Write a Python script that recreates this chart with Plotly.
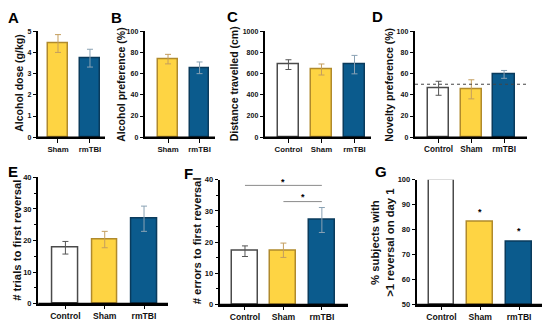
import plotly.graph_objects as go

# ---------------- data ----------------
groups2 = ["Sham", "rmTBI"]
groups3 = ["Control", "Sham", "rmTBI"]

alcohol_dose = [4.42, 3.73]
alcohol_dose_err = [0.42, 0.42]

alcohol_pref = [73.7, 65.5]
alcohol_pref_err = [4.5, 5.5]

distance = [685, 639, 685]
distance_err = [46, 52, 87]

novelty_pref = [46.2, 45.2, 59.3]
novelty_pref_err = [6.6, 9.0, 3.7]
novelty_chance = 50

trials_rev = [17.7, 20.3, 26.9]
trials_rev_err = [2.0, 2.6, 4.0]

errors_rev = [17.1, 17.4, 27.1]
errors_rev_err = [1.7, 2.3, 4.0]
errors_sig = [(0, 2, 38.2, 40.0), (1, 2, 33.0, 35.0)]  # from, to, line level, star level

pct_reversal = [100, 83, 75]
pct_sig = [None, 87.7, 80.4]

# ---------------- styles ----------------
W, H = 550, 329
FILL = {"Control": "#ffffff", "Sham": "#fed443", "rmTBI": "#0b5b8d"}
EDGE = {"Control": "#4a4a4a", "Sham": "#b08a2c", "rmTBI": "#0a3b5c"}
ERRC = {"Control": "#555555", "Sham": "#c49e5e", "rmTBI": "#8aa2b4"}
FONT = "Liberation Sans"
AX = "#000000"

fig = go.Figure()

panels = [
    dict(groups=groups2, vals=alcohol_dose, errs=alcohol_dose_err, xpx=(38, 105), ypx=(28, 137),
         xr=[-0.625, 1.47], bw=0.625, yr=[0, 5], dt=1, minor=None, yts=7, xts=7.8),
    dict(groups=groups2, vals=alcohol_pref, errs=alcohol_pref_err, xpx=(145, 215), ypx=(28, 137),
         xr=[-0.73, 1.49], bw=0.63, yr=[0, 100], dt=20, minor=None, yts=7, xts=7.8),
    dict(groups=groups3, vals=distance, errs=distance_err, xpx=(265, 371), ypx=(28, 137),
         xr=[-0.71, 2.5], bw=0.64, yr=[0, 1000], dt=200, minor=None, yts=7, xts=7.8),
    dict(groups=groups3, vals=novelty_pref, errs=novelty_pref_err, xpx=(415, 527), ypx=(28, 137),
         xr=[-0.72, 2.70], bw=0.66, yr=[0, 100], dt=20, minor=None, yts=7, xts=8.2),
    dict(groups=groups3, vals=trials_rev, errs=trials_rev_err, xpx=(38.3, 168), ypx=(178.3, 308),
         xr=[-0.69, 2.61], bw=0.65, yr=[0, 40], dt=10, minor=5, yts=7.5, xts=8.6),
    dict(groups=groups3, vals=errors_rev, errs=errors_rev_err, xpx=(220, 348), ypx=(180.7, 309),
         xr=[-0.65, 2.68], bw=0.675, yr=[0, 40], dt=10, minor=5, yts=7.5, xts=8.6),
    dict(groups=groups3, vals=pct_reversal, errs=None, xpx=(417, 542), ypx=(180.7, 309),
         xr=[-0.63, 2.59], bw=0.66, yr=[50, 100], dt=10, minor=None, yts=7.5, xts=8.6),
]

layout_axes = {}
for i, p in enumerate(panels, start=1):
    xa = "x" if i == 1 else f"x{i}"
    ya = "y" if i == 1 else f"y{i}"
    base = p["yr"][0]
    fig.add_trace(go.Bar(
        x=p["groups"],
        y=[v - base for v in p["vals"]],
        base=base,
        width=p["bw"],
        marker=dict(color=[FILL[g] for g in p["groups"]],
                    line=dict(color=[EDGE[g] for g in p["groups"]], width=1.5)),
        xaxis=xa, yaxis=ya, showlegend=False, cliponaxis=False,
    ))
    if p["errs"] is not None:
        for g, v, e in zip(p["groups"], p["vals"], p["errs"]):
            fig.add_trace(go.Scatter(
                x=[g], y=[v], mode="markers", marker=dict(size=0.1, color="rgba(0,0,0,0)"),
                error_y=dict(type="data", array=[e], color=ERRC[g], thickness=1, width=3),
                xaxis=xa, yaxis=ya, showlegend=False, cliponaxis=False,
            ))
    x0, x1 = p["xpx"]
    y0, y1 = p["ypx"]
    xkey = "xaxis" if i == 1 else f"xaxis{i}"
    ykey = "yaxis" if i == 1 else f"yaxis{i}"
    layout_axes[xkey] = dict(
        domain=[x0 / W, x1 / W], anchor=ya, type="category",
        categoryorder="array", categoryarray=p["groups"],
        range=p["xr"], showline=True, linecolor=AX, linewidth=1.6, layer="above traces",
        ticks="outside", ticklen=3.5, tickwidth=1.2, tickcolor=AX,
        tickfont=dict(family=FONT, size=p["xts"], color="#111111", weight="bold"),
        showgrid=False, zeroline=False, fixedrange=True,
    )
    yax = dict(
        domain=[1 - y1 / H, 1 - y0 / H], anchor=xa, range=p["yr"], dtick=p["dt"],
        tick0=p["yr"][0], showline=True, linecolor=AX, linewidth=1.6, layer="above traces",
        ticks="outside", ticklen=3.5, tickwidth=1.2, tickcolor=AX,
        tickfont=dict(family=FONT, size=p["yts"], color="#111111", weight="bold"),
        showgrid=False, zeroline=False, fixedrange=True,
    )
    if p["minor"]:
        yax["minor"] = dict(dtick=p["minor"], ticks="outside", ticklen=2.5, tickwidth=1.2,
                            tickcolor=AX)
    layout_axes[ykey] = yax
    # baseline of the panel along the x-axis domain (paper shape, not clipped)
    fig.add_shape(type="line", xref="paper", yref="paper",
                  x0=x0 / W, x1=x1 / W, y0=1 - y1 / H, y1=1 - y1 / H,
                  line=dict(color=AX, width=1.6), layer="above")

fig.update_layout(**layout_axes)

fig.add_shape(type="line", xref="x4 domain", yref="y4", x0=0, x1=1,
              y0=novelty_chance, y1=novelty_chance,
              line=dict(color="#444444", width=1, dash="dot"))

for a, b, lvl, star in errors_sig:
    fig.add_shape(type="line", xref="x6", yref="y6", x0=a, x1=b, y0=lvl, y1=lvl,
                  line=dict(color="#8a8a8a", width=1))
    fig.add_annotation(x=(a + b) / 2, y=star, xref="x6", yref="y6", text="*",
                       showarrow=False, yanchor="middle", yshift=-2,
                       font=dict(family=FONT, size=9, color="black", weight="bold"))

for g, s in zip(groups3, pct_sig):
    if s is not None:
        fig.add_annotation(x=g, y=s, xref="x7", yref="y7", text="*", showarrow=False,
                           yanchor="middle", yshift=-2,
                           font=dict(family=FONT, size=9, color="black", weight="bold"))

titles = [
    ("Alcohol dose (g/kg)", 19, 82, 10.5),
    ("Alcohol preference (%)", 121, 83, 10.5),
    ("Distance travelled (cm)", 233.5, 82, 10.5),
    ("Novelty preference (%)", 389, 83, 10.5),
    ("# trials to first reversal", 17.5, 243, 11.3),
    ("# errors to first reversal", 197, 244, 11.3),
    ("% subjects with<br>>1 reversal on day 1", 382.5, 246, 11.3),
]
for txt, cx, cy, fs in titles:
    fig.add_annotation(x=cx / W, y=1 - cy / H, xref="paper", yref="paper", text=txt,
                       textangle=-90, showarrow=False, xanchor="center", yanchor="middle",
                       font=dict(family=FONT, size=fs, color="#111111", weight="bold"))

letters = [("A", 13, 14), ("B", 116.5, 14), ("C", 232.5, 13), ("D", 377.5, 13),
           ("E", 13, 172.5), ("F", 188.5, 174), ("G", 381, 172.5)]
for t, cx, cy in letters:
    fig.add_annotation(x=cx / W, y=1 - cy / H, xref="paper", yref="paper", text=t,
                       showarrow=False, xanchor="center", yanchor="middle",
                       font=dict(family=FONT, size=15, color="black", weight="bold"))

fig.update_layout(width=W, height=H, autosize=False,
                  margin=dict(l=0, r=0, t=0, b=0),
                  paper_bgcolor="white", plot_bgcolor="white",
                  bargap=0, showlegend=False)

fig.write_html("out.html", config={"displayModeBar": False},
               post_script="document.body.style.margin='0';document.body.style.overflow='hidden';")
